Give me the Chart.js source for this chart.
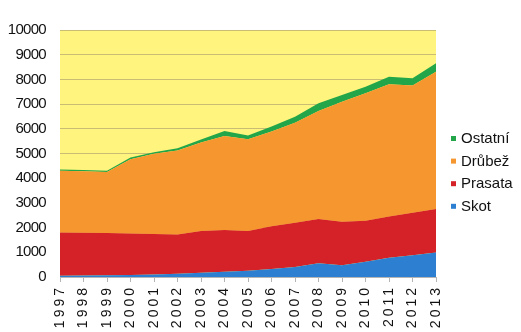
<!DOCTYPE html>
<html><head><meta charset="utf-8">
<script src="https://cdn.jsdelivr.net/npm/chart.js@4"></script>
<style>html,body{margin:0;padding:0;background:#fff}#wrap{width:521px;height:332px}</style>
</head><body><div id="wrap"><canvas id="c" width="521" height="332"></canvas></div>
<script>
const years = ['1997','1998','1999','2000','2001','2002','2003','2004','2005','2006','2007','2008','2009','2010','2011','2012','2013'];
const skot     = [50, 60, 70, 80, 100, 130, 170, 210, 250, 320, 400, 560, 480, 620, 780, 880, 990];
const prasata  = [1750, 1730, 1710, 1680, 1640, 1590, 1690, 1690, 1610, 1730, 1800, 1790, 1760, 1660, 1670, 1720, 1760];
const drubez   = [2500, 2490, 2470, 3010, 3250, 3400, 3590, 3810, 3720, 3840, 4050, 4370, 4860, 5160, 5350, 5150, 5560];
const ostatni  = [50, 50, 50, 70, 60, 90, 120, 200, 150, 200, 240, 310, 270, 260, 310, 300, 340];
const yTicks = [0,1000,2000,3000,4000,5000,6000,7000,8000,9000,10000];

const FONT = "'Liberation Sans', Arial, sans-serif";

const plotBg = {
  id: 'plotBg',
  beforeDraw(chart) {
    const {ctx, chartArea: a} = chart;
    ctx.save();
    ctx.fillStyle = '#fff57e';
    ctx.fillRect(a.left, a.top, a.right - a.left, a.bottom - a.top);
    ctx.restore();
  }
};

// legend drawn beside the plot, entries in reverse dataset order
const sideLegend = {
  id: 'sideLegend',
  afterDraw(chart) {
    const {ctx, chartArea: a} = chart;
    const ds = chart.data.datasets.slice().reverse();
    ctx.save();
    ctx.font = '15px ' + FONT;
    ctx.textBaseline = 'middle';
    ctx.textAlign = 'left';
    const x0 = a.right + 15, y0 = a.top + 109, step = 22.6;
    ds.forEach((d, i) => {
      const y = y0 + i * step;
      ctx.fillStyle = d.backgroundColor;
      ctx.fillRect(x0, y - 3, 5, 5);
      ctx.fillStyle = '#111';
      ctx.fillText(d.label, x0 + 10, y);
    });
    ctx.restore();
  }
};

function spaced(spacing) {
  return function (scale) {
    if (scale._spacedWrap) return;
    scale._spacedWrap = true;
    const orig = scale.drawLabels.bind(scale);
    scale.drawLabels = function (ca) {
      const ctx = scale.ctx;
      ctx.save();
      ctx.letterSpacing = spacing;
      orig(ca);
      ctx.restore();
    };
  };
}

const mk = (label, data, color, fill) => ({
  label, data, backgroundColor: color, borderColor: color, borderWidth: 0,
  pointRadius: 0, fill, tension: 0
});

new Chart(document.getElementById('c'), {
  type: 'line',
  data: {
    labels: years,
    datasets: [
      mk('Skot', skot, '#2d7fd2', 'origin'),
      mk('Prasata', prasata, '#d52128', '-1'),
      mk('Drůbež', drubez, '#f6962f', '-1'),
      mk('Ostatní', ostatni, '#23a64a', '-1')
    ]
  },
  options: {
    responsive: false,
    animation: false,
    layout: { padding: { top: 30, left: 4, right: 85, bottom: 0 } },
    plugins: {
      legend: { display: false },
      tooltip: { enabled: false }
    },
    scales: {
      x: {
        offset: false,
        afterUpdate: spaced('3px'),
        afterFit: s => { s.height = 55; s.paddingLeft = 0; s.paddingRight = 0; },
        grid: { display: true, drawOnChartArea: false, drawTicks: true, tickLength: 5, color: '#b5b5b5' },
        border: { color: '#b5b5b5' },
        ticks: {
          minRotation: 90, maxRotation: 90, autoSkip: false,
          color: '#111', padding: 3,
          font: { family: FONT, size: 14 }
        }
      },
      y: {
        stacked: true,
        min: 0, max: 10000,
        afterBuildTicks: s => { s.ticks = yTicks.map(v => ({ value: v })); },
        afterUpdate: spaced('-0.7px'),
        afterFit: s => { s.width = 56; },
        grid: { color: '#c9bd74', drawTicks: false },
        border: { display: false },
        ticks: {
          color: '#111', padding: 14,
          callback: v => String(v),
          font: { family: FONT, size: 15 }
        }
      }
    }
  },
  plugins: [plotBg, sideLegend]
});
</script></body></html>
